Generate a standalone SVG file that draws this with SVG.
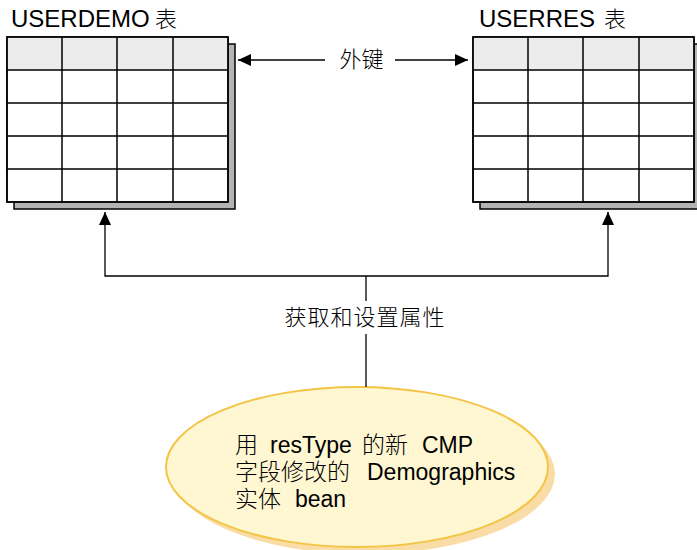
<svg xmlns="http://www.w3.org/2000/svg" width="697" height="550" viewBox="0 0 697 550">
  <style>
    .title { font-family: "Liberation Sans", Arial, "Noto Sans CJK SC", sans-serif; font-size: 24px; fill: #000; }
    .cjk { font-family: "Noto Sans CJK SC", sans-serif; font-weight: 300; }
    .label { font-family: "Noto Sans CJK SC", sans-serif; font-size: 22px; fill: #000; font-weight: 300; }
    .body { font-family: "Liberation Sans", Arial, "Noto Sans CJK SC", sans-serif; font-size: 23px; fill: #000; }
    .shadow { fill: #b4b4b4; stroke: #000; stroke-width: 1.5; }
    .frame { fill: #fff; stroke: #000; stroke-width: 1.5; }
    .head { fill: #ececec; }
    .grid { stroke: #000; stroke-width: 1.5; fill: none; }
    .conn { stroke: #000; stroke-width: 1.3; fill: none; }
  </style>
  <defs>
    <marker id="arrow" viewBox="0 0 13 13" refX="13" refY="6.5" markerWidth="13" markerHeight="13" markerUnits="userSpaceOnUse" orient="auto">
      <path d="M0,0.5 L13,6.5 L0,12.5 Z" fill="#000"/>
    </marker>
    <g id="table">
      <rect class="shadow" x="7" y="7" width="221" height="165"/>
      <rect class="frame" x="0" y="0" width="221" height="165"/>
      <rect class="head" x="0.75" y="0.75" width="219.5" height="32.5"/>
      <path class="grid" d="M55,0 V165 M110,0 V165 M166,0 V165 M0,33 H221 M0,66 H221 M0,99 H221 M0,132 H221"/>
      <rect class="frame" x="0" y="0" width="221" height="165" style="fill:none"/>
    </g>
  </defs>

  <!-- USERDEMO table -->
  <g id="userdemo">
    <text class="title" x="11" y="27">USERDEMO<tspan class="cjk" x="155" font-size="22">表</tspan></text>
    <use href="#table" x="7" y="37"/>
  </g>

  <!-- USERRES table -->
  <g id="userres">
    <text class="title" x="479" y="27">USERRES<tspan class="cjk" x="604" font-size="22">表</tspan></text>
    <use href="#table" x="473" y="37"/>
  </g>

  <!-- entity bean ellipse -->
  <g id="bean">
    <ellipse cx="364" cy="474" rx="191" ry="80" fill="#f9dca6"/>
    <ellipse cx="357" cy="467" rx="191" ry="80" fill="#fef7d2" stroke="#f4c447" stroke-width="2"/>
    <text class="body" y="453"><tspan class="cjk" x="235">用</tspan><tspan x="270">resType</tspan><tspan class="cjk" x="362">的新</tspan><tspan x="422">CMP</tspan></text>
    <text class="body" y="480"><tspan class="cjk" x="235">字段修改的</tspan><tspan x="367">Demographics</tspan></text>
    <text class="body" y="507"><tspan class="cjk" x="235">实体</tspan><tspan x="295">bean</tspan></text>
  </g>

  <!-- connectors -->
  <g id="connectors">
    <path class="conn" d="M325,60 H238" marker-end="url(#arrow)"/>
    <path class="conn" d="M395,60 H468" marker-end="url(#arrow)"/>
    <text class="label" x="361.5" y="67" text-anchor="middle">外键</text>
    <path class="conn" d="M366,276 H105 V212" marker-end="url(#arrow)"/>
    <path class="conn" d="M366,276 H608 V212" marker-end="url(#arrow)"/>
    <path class="conn" d="M366,276 V301"/>
    <path class="conn" d="M366,334 V387"/>
    <text class="label" x="365" y="325" text-anchor="middle" letter-spacing="1">获取和设置属性</text>
  </g>
</svg>
